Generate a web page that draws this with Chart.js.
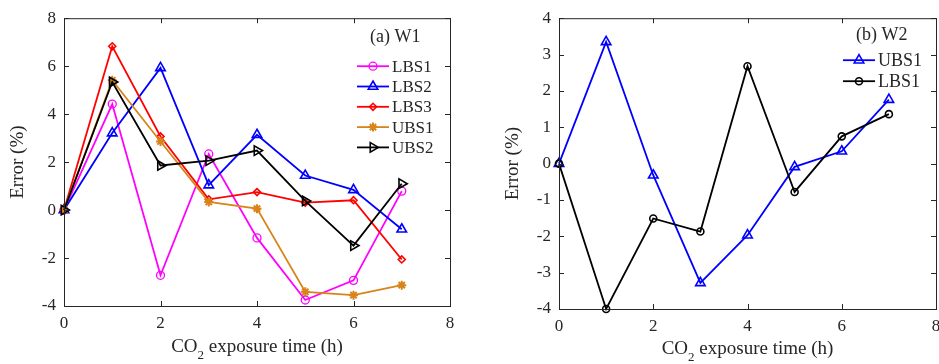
<!DOCTYPE html>
<html>
<head>
<meta charset="utf-8">
<script src="https://cdn.jsdelivr.net/npm/chart.js@4.4.0/dist/chart.umd.min.js"></script>
<style>
  body { margin: 0; background: #fff; }
  #wrap { position: relative; width: 939px; height: 364px; overflow: hidden; }
  .panel { position: absolute; top: 0; height: 364px; overflow: hidden; }
</style>
</head>
<body>
<div id="wrap">
  <div class="panel" style="left:0;width:470px"><canvas id="chartW1" width="470" height="364"></canvas></div>
  <div class="panel" style="left:470px;width:469px"><canvas id="chartW2" width="482" height="364"></canvas></div>
</div>
<script>
// exposure time (h)
const hours = [0, 1, 2, 3, 4, 5, 6, 7];

// (a) W1 error (%)
const w1LBS1 = [0, 4.42, -2.72, 2.34, -1.16, -3.75, -2.93, 0.79];
const w1LBS2 = [0, 3.21, 5.93, 1.04, 3.14, 1.44, 0.84, -0.80];
const w1LBS3 = [0, 6.83, 3.07, 0.45, 0.75, 0.31, 0.41, -2.06];
const w1UBS1 = [0, 5.41, 2.86, 0.34, 0.06, -3.41, -3.55, -3.13];
const w1UBS2 = [0, 5.34, 1.86, 2.06, 2.48, 0.38, -1.48, 1.10];

// (b) W2 error (%)
const w2UBS1 = [0, 3.35, -0.32, -3.28, -1.97, -0.09, 0.34, 1.76];
const w2LBS1 = [0, -4.00, -1.51, -1.87, 2.68, -0.78, 0.75, 1.36];

const xTicks = [0, 2, 4, 6, 8];
const w1YTicks = [-4, -2, 0, 2, 4, 6, 8];
const w2YTicks = [-4, -3, -2, -1, 0, 1, 2, 3, 4];

const FONT = "'Liberation Serif', 'Times New Roman', serif";
const TXT = "#262626";

function series(label, vals, color, style, opt) {
  opt = opt || {};
  return {
    label: label,
    data: hours.map((h, i) => ({ x: h, y: vals[i] })),
    borderColor: color,
    borderWidth: opt.lw || 1.8,
    pointStyle: style,
    pointRotation: opt.rot || 0,
    pointRadius: opt.r || 4.5,
    pointBorderWidth: opt.pw || 1.3,
    pointBorderColor: color,
    pointBackgroundColor: opt.fill || "rgba(0,0,0,0)",
    tension: 0,
    clip: false,
    order: opt.order || 0
  };
}

// axes box with inward ticks, axis titles and legend
const matlabBox = {
  id: "matlabBox",
  afterDraw(chart, args, cfg) {
    const { ctx, chartArea: a, scales } = chart;
    ctx.save();
    ctx.strokeStyle = TXT;
    ctx.lineWidth = 1;
    ctx.strokeRect(a.left + 0.5, a.top + 0.5, a.right - a.left, a.bottom - a.top);
    ctx.beginPath();
    scales.x.ticks.forEach(t => {
      const px = Math.round(scales.x.getPixelForValue(t.value)) + 0.5;
      ctx.moveTo(px, a.bottom); ctx.lineTo(px, a.bottom - 5);
      ctx.moveTo(px, a.top); ctx.lineTo(px, a.top + 5);
    });
    scales.y.ticks.forEach(t => {
      const py = Math.round(scales.y.getPixelForValue(t.value)) + 0.5;
      ctx.moveTo(a.left, py); ctx.lineTo(a.left + 5, py);
      ctx.moveTo(a.right, py); ctx.lineTo(a.right - 5, py);
    });
    ctx.stroke();

    // y title
    ctx.fillStyle = TXT;
    ctx.font = "19px " + FONT;
    ctx.textAlign = "center";
    ctx.textBaseline = "middle";
    ctx.save();
    ctx.translate(cfg.yTitleX, (a.top + a.bottom) / 2);
    ctx.rotate(-Math.PI / 2);
    ctx.fillText("Error (%)", 0, 0);
    ctx.restore();

    // x title with subscript
    ctx.textAlign = "left";
    ctx.textBaseline = "alphabetic";
    const big = "19px " + FONT, small = "13px " + FONT;
    ctx.font = big; const w1 = ctx.measureText("CO").width;
    ctx.font = small; const w2 = ctx.measureText("2").width;
    ctx.font = big; const w3 = ctx.measureText(" exposure time (h)").width;
    let x = (a.left + a.right) / 2 - (w1 + w2 + w3) / 2;
    ctx.fillText("CO", x, cfg.xTitleY);
    ctx.font = small; ctx.fillText("2", x + w1, cfg.xTitleY + 7);
    ctx.font = big; ctx.fillText(" exposure time (h)", x + w1 + w2, cfg.xTitleY);

    // legend
    const x0 = a.right - 93;
    ctx.textBaseline = "middle";
    ctx.font = cfg.titleFont + "px " + FONT;
    ctx.fillStyle = TXT;
    ctx.fillText(cfg.title, a.right - 80, a.top + cfg.titleDy);
    chart.data.datasets.forEach((ds, i) => {
      const y = a.top + cfg.firstDy + i * cfg.rowGap;
      ctx.strokeStyle = ds.borderColor;
      ctx.lineWidth = ds.borderWidth;
      ctx.beginPath(); ctx.moveTo(x0, y); ctx.lineTo(x0 + 32, y); ctx.stroke();
      ctx.strokeStyle = ds.pointBorderColor;
      ctx.fillStyle = ds.pointBackgroundColor;
      ctx.lineWidth = ds.pointBorderWidth;
      Chart.helpers.drawPoint(ctx, {
        pointStyle: ds.pointStyle, radius: ds.pointRadius,
        rotation: ds.pointRotation, borderWidth: ds.pointBorderWidth
      }, x0 + 16, y);
      ctx.fillStyle = TXT;
      ctx.font = cfg.font + "px " + FONT;
      ctx.fillText(ds.label, x0 + 35, y + 1);
    });
    ctx.restore();
  }
};

function makeChart(id, datasets, yMin, yMax, yStep, lay) {
  return new Chart(document.getElementById(id), {
    type: "line",
    data: { datasets: datasets },
    options: {
      responsive: false,
      animation: false,
      layout: { padding: { left: 0, top: lay.top, right: lay.right, bottom: 0 } },
      scales: {
        x: {
          type: "linear", min: 0, max: 8,
          ticks: { stepSize: 2, color: TXT, font: { family: FONT, size: 17 }, padding: 7 },
          grid: { display: false, drawTicks: false },
          border: { display: false },
          afterFit: s => { s.height = lay.xh; }
        },
        y: {
          min: yMin, max: yMax,
          ticks: { stepSize: yStep, color: TXT, font: { family: FONT, size: 17 }, padding: 8 },
          grid: { display: false, drawTicks: false },
          border: { display: false },
          afterFit: s => { s.width = lay.yw; }
        }
      },
      plugins: {
        legend: { display: false },
        tooltip: { enabled: false },
        matlabBox: lay.box
      }
    },
    plugins: [matlabBox]
  });
}

makeChart("chartW1", [
  series("LBS1", w1LBS1, "#ff00ff", "circle", { r: 4, order: 5 }),
  series("LBS2", w1LBS2, "#0000ff", "triangle", { r: 5.5, pw: 1.6, order: 4 }),
  series("LBS3", w1LBS3, "#ff0000", "rectRot", { r: 3.5, pw: 1.6, order: 3 }),
  series("UBS1", w1UBS1, "#d9841a", "star", { r: 4.5, pw: 2, order: 2 }),
  series("UBS2", w1UBS2, "#000000", "triangle", { r: 5.5, rot: 90, pw: 1.6, order: 1 })
], w1YTicks[0], w1YTicks[w1YTicks.length - 1], 2, {
  top: 16, right: 20, xh: 58, yw: 64,
  box: { yTitleX: 18, xTitleY: 352, title: "(a) W1", titleFont: 18, font: 17, titleDy: 19, firstDy: 48, rowGap: 20.3 }
});

makeChart("chartW2", [
  series("UBS1", w2UBS1, "#0000ff", "triangle", { r: 5.5, pw: 1.6, order: 2 }),
  series("LBS1", w2LBS1, "#000000", "circle", { r: 3.5, pw: 1.6, order: 1 })
], w2YTicks[0], w2YTicks[w2YTicks.length - 1], 1, {
  top: 16, right: 16, xh: 55, yw: 89,
  box: { yTitleX: 43, xTitleY: 354, title: "(b) W2", titleFont: 18, font: 18, titleDy: 17, firstDy: 42, rowGap: 21 }
});
</script>
</body>
</html>
